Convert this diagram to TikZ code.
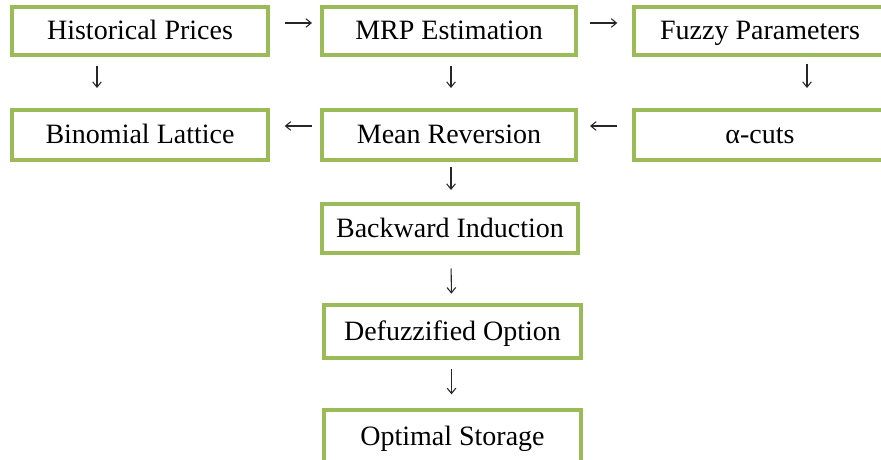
\documentclass[tikz,border=0pt]{standalone}
\usepackage{fontspec}
\setmainfont{Liberation Serif}
\usepackage{tikz}
\usetikzlibrary{calc,positioning,arrows.meta}
\definecolor{boxgreen}{HTML}{9BBB59}
\tikzstyle{stage} = [rectangle, draw=boxgreen, line width=3pt, fill=white, minimum width=192pt, minimum height=36pt, text centered, text height=15pt, text depth=2pt, font=\fontsize{21}{25}\selectfont]
\tikzstyle{flow}  = [line width=0.8pt, draw=black!85, -{Straight Barb[length=4pt,width=6.5pt]}]

\begin{document}
\begin{tikzpicture}[x=0.75pt,y=-0.75pt]
		\useasboundingbox (0,0) rectangle (881,460);
		\clip (0,0) rectangle (881,460);

		% first row
		\node[stage] (hist)  at (140,31) {Historical Prices};
		\node[stage, minimum width=190.5pt] (mrp) at (449,31) {MRP Estimation};
		\node[stage, minimum width=189pt] (fuzzy) at (760,31) {Fuzzy Parameters};

		% second row
		\node[stage, minimum height=37.5pt] (binom) at (140,135) {Binomial Lattice};
		\node[stage, minimum width=190.5pt, minimum height=37.5pt] (mean) at (449,135) {Mean Reversion};
		\node[stage, minimum width=189pt, minimum height=37.5pt] (alpha) at (760,135) {α-cuts};

		% column below
		\node[stage, minimum height=36.75pt] (back) at (450,228.5) {Backward Induction};
		\node[stage, minimum width=192.75pt, minimum height=39.75pt] (defuzz) at (452.5,331.5) {Defuzzified Option};
		\node[stage, minimum width=192.75pt, minimum height=41pt] (optimal) at (452.5,437) {Optimal Storage};

		\draw[flow, shorten <=11pt, shorten >=6pt] ($(hist.east)+(0,-8)$) -- ($(mrp.west)+(0,-8)$);
		\draw[flow, shorten <=9pt, shorten >=11pt] ($(mrp.east)+(0,-8)$) -- ($(fuzzy.west)+(0,-8)$);
		\draw[flow, shorten <=7pt, shorten >=15pt] ($(hist.south)+(-43,0)$) -- ($(binom.north)+(-43,0)$);
		\draw[flow, shorten <=7pt, shorten >=15pt] ($(mrp.south)+(2,0)$) -- ($(mean.north)+(2,0)$);
		\draw[flow, shorten <=5pt, shorten >=15pt] ($(fuzzy.south)+(47,0)$) -- ($(alpha.north)+(47,0)$);
		\draw[flow, shorten <=6pt, shorten >=11pt] ($(mean.west)+(0,-9)$) -- ($(binom.east)+(0,-9)$);
		\draw[flow, shorten <=11pt, shorten >=9pt] ($(alpha.west)+(0,-9)$) -- ($(mean.east)+(0,-9)$);
		\draw[flow, shorten <=4pt, shorten >=9pt] ($(mean.south)+(2,0)$) -- ($(back.north)+(1,0)$);
		\draw[flow, shorten <=10pt, shorten >=7pt] ($(back.south)+(1,0)$) -- ($(defuzz.north)+(-1,0)$);
		\draw[flow, shorten <=7pt, shorten >=10pt] ($(defuzz.south)+(-1,0)$) -- ($(optimal.north)+(-1,0)$);
	\end{tikzpicture}
\end{document}
